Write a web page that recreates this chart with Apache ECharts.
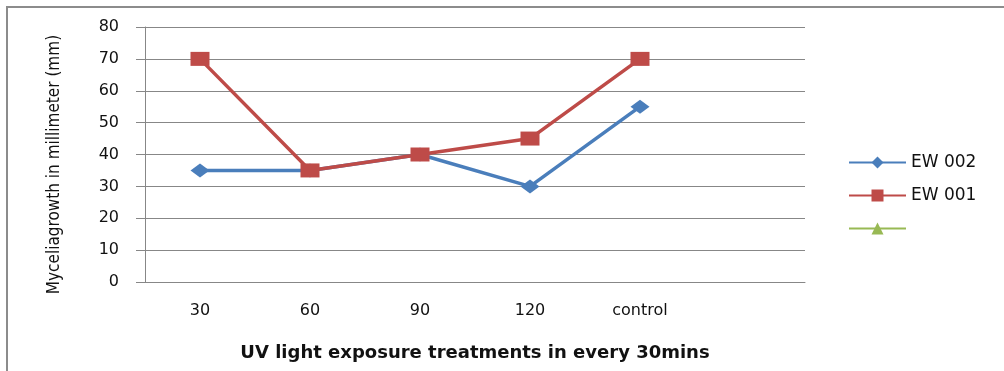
<!DOCTYPE html>
<html><head><meta charset="utf-8">
<script src="https://cdn.jsdelivr.net/npm/echarts@6/dist/echarts.min.js"></script>
<style>html,body{margin:0;padding:0;background:#fff}#c{width:1004px;height:371px}</style>
</head><body><div id="c"></div>
<script>
const categories = ['30', '60', '90', '120', 'control', ''];
const ew002 = [35, 35, 40, 30, 55, '-'];
const ew001 = [70, 35, 40, 45, 70, '-'];
const series3 = ['-', '-', '-', '-', '-', '-'];
const seriesNames = ['EW 002', 'EW 001', ' '];
const yTicks = { min: 0, max: 80, interval: 10 };
const xTitle = 'UV light exposure treatments in every 30mins';
const yTitle = 'Myceliagrowth in millimeter (mm)';

const chart = echarts.init(document.getElementById('c'), null, { renderer: 'canvas' });
const gray = '#878787';
chart.setOption({
  animation: false,
  backgroundColor: '#fff',
  graphic: [
    { type: 'line', shape: { x1: 7, y1: 7, x2: 7, y2: 371 }, style: { stroke: '#8c8c8c', lineWidth: 2 } },
    { type: 'line', shape: { x1: 6, y1: 7, x2: 1004, y2: 7 }, style: { stroke: '#8c8c8c', lineWidth: 2 } }
  ],
  grid: { left: 145, right: 199, top: 27, bottom: 89 },
  legend: {
    orient: 'vertical', left: 843, top: 149,
    itemWidth: 57, itemHeight: 15, itemGap: 16,
    textStyle: { fontFamily: 'DejaVu Sans', fontSize: 17, color: '#111' },
    data: seriesNames
  },
  xAxis: {
    type: 'category', data: categories, boundaryGap: true,
    axisLine: { lineStyle: { color: gray, width: 1 } },
    axisTick: { length: 6, lineStyle: { color: gray } },
    axisLabel: { fontFamily: 'DejaVu Sans', fontSize: 16, color: '#111', margin: 21, interval: 0 },
    splitLine: { show: false },
    name: xTitle, nameLocation: 'middle', nameGap: 62,
    nameTextStyle: { fontFamily: 'DejaVu Sans', fontWeight: 'bold', fontSize: 18, color: '#111' }
  },
  yAxis: {
    type: 'value', min: yTicks.min, max: yTicks.max, interval: yTicks.interval,
    axisLine: { show: true, lineStyle: { color: gray, width: 1 } },
    axisTick: { show: true, length: 9, lineStyle: { color: gray } },
    axisLabel: { fontFamily: 'DejaVu Sans', fontSize: 16, color: '#111', margin: 26 },
    splitLine: { lineStyle: { color: gray, width: 1 } },
    name: yTitle, nameLocation: 'middle', nameGap: 82, nameRotate: 90,
    nameTextStyle: { fontFamily: 'DejaVu Sans Condensed', fontSize: 17, color: '#111', padding: [0, 20, 0, 0] }
  },
  series: [
    { name: seriesNames[0], type: 'line', data: ew002, symbol: 'diamond', symbolSize: [19, 14],
      lineStyle: { color: '#4A7EBB', width: 3.5 }, itemStyle: { color: '#4A7EBB' } },
    { name: seriesNames[1], type: 'line', data: ew001, symbol: 'rect', symbolSize: [19, 14],
      lineStyle: { color: '#BE4B48', width: 3.5 }, itemStyle: { color: '#BE4B48' } },
    { name: seriesNames[2], type: 'line', data: series3, symbol: 'triangle', symbolSize: [16, 13],
      lineStyle: { color: '#98B954', width: 3.5 }, itemStyle: { color: '#98B954' } }
  ]
});
</script></body></html>
